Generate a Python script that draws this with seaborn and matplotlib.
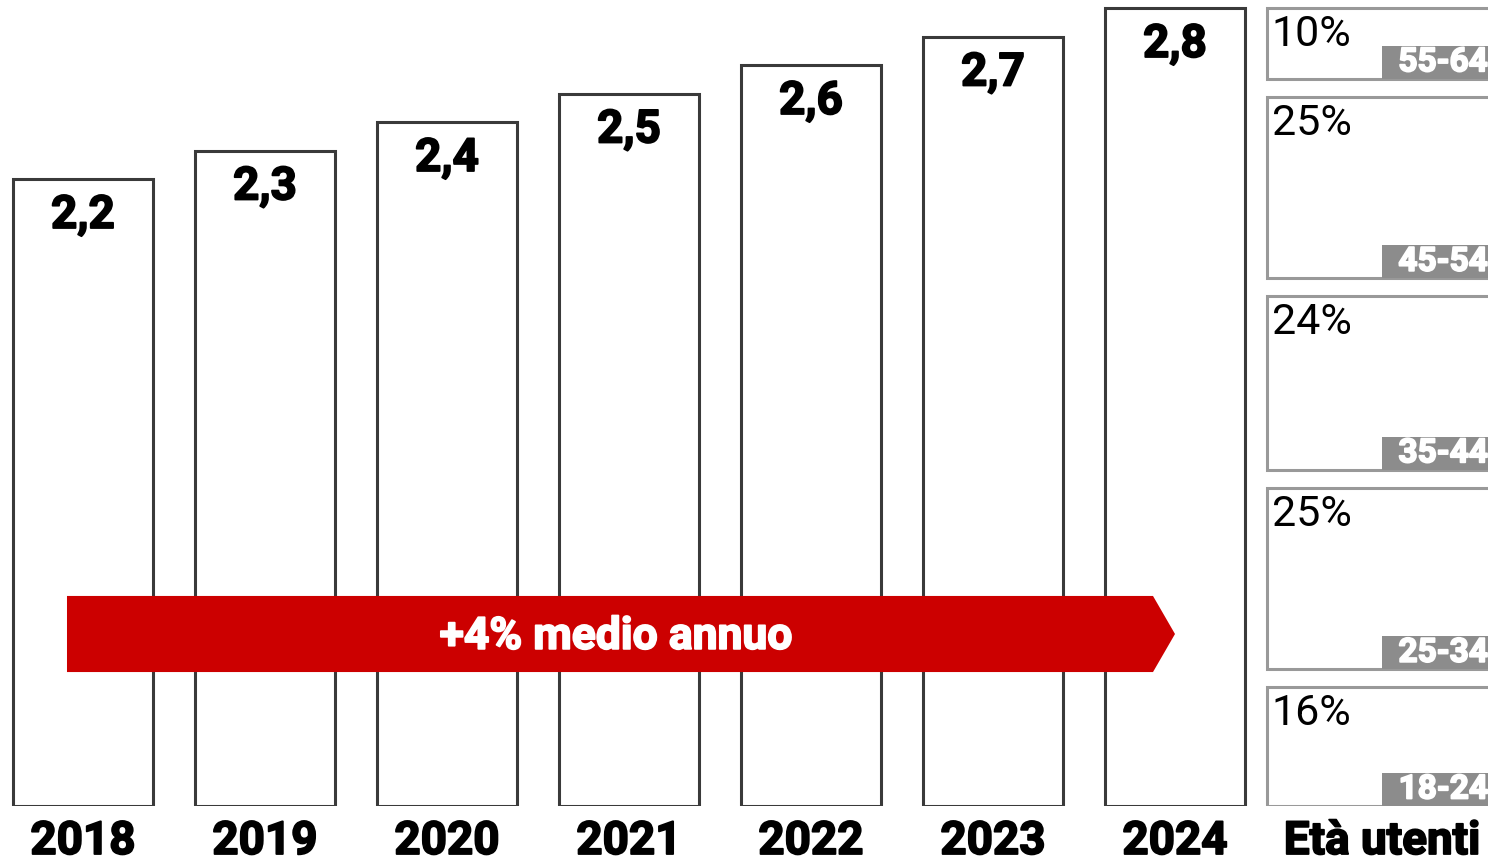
import pandas as pd
import matplotlib.pyplot as plt
import matplotlib.patheffects as pe
import seaborn as sns
from matplotlib.patches import Polygon, Rectangle

# Data
years = ["2018", "2019", "2020", "2021", "2022", "2023", "2024"]
users = [2.2, 2.3, 2.4, 2.5, 2.6, 2.7, 2.8]
age_groups = ["18-24", "25-34", "35-44", "45-54", "55-64"]
age_share = [16, 25, 24, 25, 10]
growth_label = "+4% medio annuo"
age_title = "Età utenti"

RED = "#cc0000"
DARK = "#3a3a3a"
GREY = "#999999"
TAG = "#8c8c8c"


def heavy(color):
    # fake a black weight by stroking the bold glyphs
    return [pe.withStroke(linewidth=1.3, foreground=color)]


sns.set_style("white")
plt.rcParams["font.family"] = ["Roboto", "DejaVu Sans"]

W, H = 1488, 861
fig = plt.figure(figsize=(W / 100, H / 100), dpi=100)

# main bar chart, 285 px per unit, category spacing 182 px
px_unit = 285
ax = fig.add_axes([0, 55 / H, 1, 806 / H])
df = pd.DataFrame({"year": years, "users": users})
sns.barplot(data=df, x="year", y="users", ax=ax, color="white", saturation=1,
            edgecolor=DARK, linewidth=2.2, width=0.77)
ax.set_xlim(-83 / 182, (W - 83) / 182)
ax.set_ylim(0, 806 / px_unit)
ax.axis("off")

for i, v in enumerate(users):
    ax.text(i, v - 36 / px_unit, f"{v:.1f}".replace(".", ","), ha="center", va="center",
            fontsize=33, fontweight="bold", color="black", path_effects=heavy("black"))
    ax.text(i, -35 / px_unit, years[i], ha="center", va="center", fontsize=33,
            fontweight="bold", color="black", clip_on=False, path_effects=heavy("black"))

# growth arrow across the years
n = len(years) - 1
y0, y1 = 0.470, 0.737
tip = 22 / 182
arrow = Polygon([(-0.088, y0), (n - tip, y0), (n, (y0 + y1) / 2), (n - tip, y1), (-0.088, y1)],
                closed=True, facecolor=RED, edgecolor="none", zorder=5)
ax.add_patch(arrow)
ax.text(2.93, (y0 + y1) / 2 - 0.01, growth_label, ha="center", va="center", fontsize=32,
        fontweight="bold", color="white", zorder=6, path_effects=heavy("white"))

# age breakdown panel (stacked boxes)
pct_px = 7.98
gap = 18 / pct_px
ax2 = fig.add_axes([1263 / W, 55 / H, 225 / W, 806 / H])
ax2.set_xlim(-0.02, 1)
ax2.set_ylim(0, 806 / pct_px)
ax2.axis("off")
bottom = 0
for grp, pct in zip(age_groups, age_share):
    b = bottom + gap / 2 if bottom > 0 else bottom
    h = pct - gap / 2 - (gap / 2 if bottom > 0 else 0)
    if bottom + pct >= 100:
        h = 100 - b
    ax2.bar(0, h, bottom=b, width=1.2, align="edge", color="white", edgecolor=GREY,
            linewidth=2.2)
    top = b + h
    ax2.text(0.02, top - 6 / pct_px, f"{pct}%", ha="left", va="top", fontsize=31,
             color="black")
    tag_h = 33 / pct_px
    ax2.add_patch(Rectangle((117 / 225, b), 1, tag_h, facecolor=TAG, edgecolor="none",
                            zorder=4))
    ax2.text(1.0, b + tag_h / 2, grp, ha="right", va="center", fontsize=24,
             fontweight="bold", color="white", zorder=5, path_effects=heavy("white"))
    bottom += pct

ax2.text(0.52, -35 / pct_px, age_title, ha="center", va="center", fontsize=33,
         fontweight="bold", color="black", clip_on=False, path_effects=heavy("black"))

fig.savefig("out.png", dpi=100)
